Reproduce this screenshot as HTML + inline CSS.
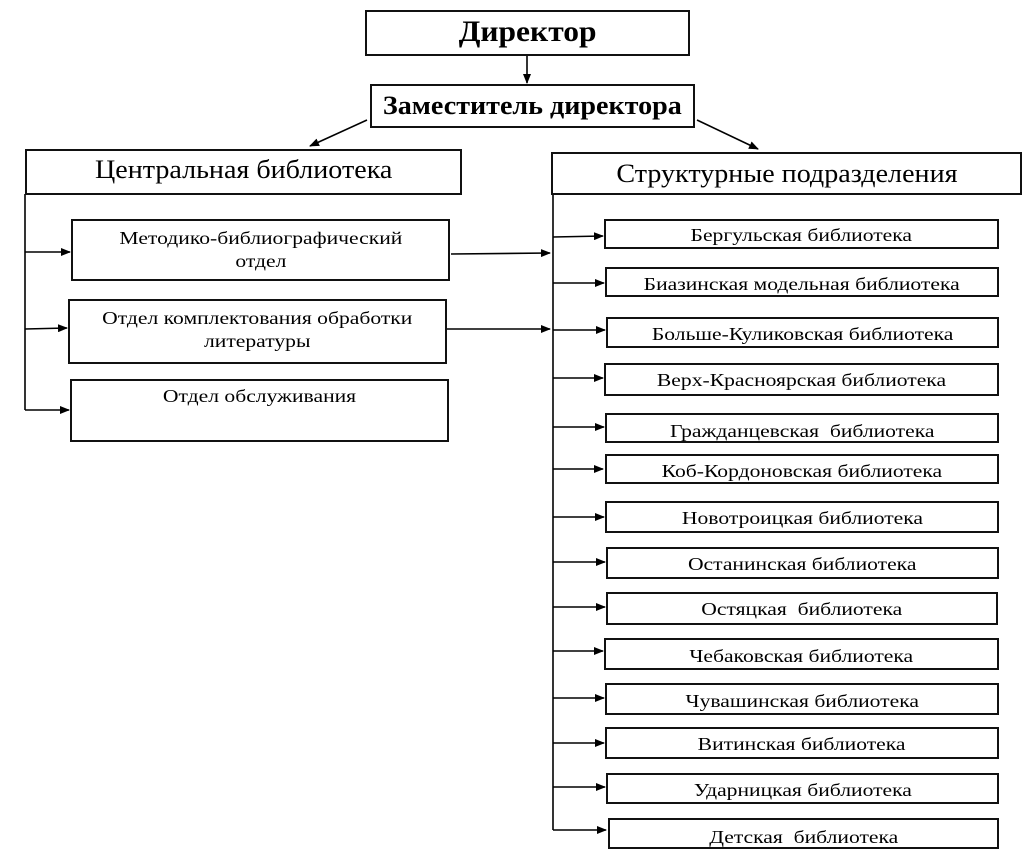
<!DOCTYPE html>
<html><head><meta charset="utf-8"><style>
body{margin:0;background:#fff;width:1024px;height:855px;position:relative;overflow:hidden;font-family:"Liberation Serif",serif;color:#000}
.b{position:absolute;border:2px solid #111;box-sizing:border-box;text-align:center;background:#fff;white-space:nowrap}
.b span{display:inline-block;transform:scaleX(1.2);transform-origin:center}
svg{position:absolute;left:0;top:0}
</style></head><body>
<svg width="1024" height="855">
<defs><marker id="a" markerWidth="10" markerHeight="8" refX="9" refY="4" orient="auto" markerUnits="userSpaceOnUse"><path d="M0,0L10,4L0,8z" fill="#000"/></marker></defs>
<g stroke="#000" stroke-width="1.6" fill="none">
<line x1="527" y1="56" x2="527" y2="83" marker-end="url(#a)"/>
<line x1="367" y1="120" x2="310" y2="146" marker-end="url(#a)"/>
<line x1="697" y1="120" x2="758" y2="149" marker-end="url(#a)"/>
<line x1="25" y1="194" x2="25" y2="410"/>
<line x1="25" y1="252" x2="70" y2="252" marker-end="url(#a)"/>
<line x1="25" y1="329" x2="67" y2="328" marker-end="url(#a)"/>
<line x1="25" y1="410" x2="69" y2="410" marker-end="url(#a)"/>
<line x1="451" y1="254" x2="550" y2="253" marker-end="url(#a)"/>
<line x1="447" y1="329" x2="550" y2="329" marker-end="url(#a)"/>
<line x1="553" y1="194" x2="553" y2="830"/>
<g>
<line x1="553" y1="237" x2="603" y2="236" marker-end="url(#a)"/>
<line x1="553" y1="283" x2="604" y2="283" marker-end="url(#a)"/>
<line x1="553" y1="330" x2="605" y2="330" marker-end="url(#a)"/>
<line x1="553" y1="378" x2="603" y2="378" marker-end="url(#a)"/>
<line x1="553" y1="427" x2="604" y2="427" marker-end="url(#a)"/>
<line x1="553" y1="469" x2="603" y2="469" marker-end="url(#a)"/>
<line x1="553" y1="517" x2="604" y2="517" marker-end="url(#a)"/>
<line x1="553" y1="562" x2="605" y2="562" marker-end="url(#a)"/>
<line x1="553" y1="607" x2="605" y2="607" marker-end="url(#a)"/>
<line x1="553" y1="651" x2="603" y2="651" marker-end="url(#a)"/>
<line x1="553" y1="698" x2="604" y2="698" marker-end="url(#a)"/>
<line x1="553" y1="743" x2="604" y2="743" marker-end="url(#a)"/>
<line x1="553" y1="787" x2="605" y2="787" marker-end="url(#a)"/>
<line x1="553" y1="830" x2="606" y2="830" marker-end="url(#a)"/>
</g></g></svg>

<div class="b" style="left:365px;top:10px;width:325px;height:46px;font-weight:bold;font-size:30px;line-height:40px"><span style="transform:scaleX(1.05)">Директор</span></div>
<div class="b" style="left:370px;top:84px;width:325px;height:44px;font-weight:bold;font-size:26px;line-height:40px"><span style="transform:scaleX(1.08)">Заместитель директора</span></div>
<div class="b" style="left:25px;top:149px;width:437px;height:46px;font-size:26px;line-height:38px"><span style="transform:scaleX(1.08)">Центральная библиотека</span></div>
<div class="b" style="left:551px;top:152px;width:471px;height:43px;font-size:26px;line-height:40px"><span style="transform:scaleX(1.08)">Структурные подразделения</span></div>
<div class="b" style="left:71px;top:219px;width:379px;height:62px;font-size:18px;line-height:23px;padding-top:6px"><span>Методико-библиографический<br>отдел</span></div>
<div class="b" style="left:68px;top:299px;width:379px;height:65px;font-size:18px;line-height:23px;padding-top:6px"><span>Отдел комплектования обработки<br>литературы</span></div>
<div class="b" style="left:70px;top:379px;width:379px;height:63px;font-size:18px;line-height:23px;padding-top:4px"><span>Отдел обслуживания</span></div>

<div style="position:absolute;left:0;top:0;font-size:18px">
<div class="b" style="left:604px;top:219px;width:395px;height:30px;line-height:28px"><span>Бергульская библиотека</span></div>
<div class="b" style="left:605px;top:267px;width:394px;height:30px;line-height:30px"><span>Биазинская модельная библиотека</span></div>
<div class="b" style="left:606px;top:317px;width:393px;height:31px;line-height:31px"><span>Больше-Куликовская библиотека</span></div>
<div class="b" style="left:604px;top:363px;width:395px;height:33px;line-height:31px"><span>Верх-Красноярская библиотека</span></div>
<div class="b" style="left:605px;top:413px;width:394px;height:30px;line-height:32px"><span>Гражданцевская&nbsp; библиотека</span></div>
<div class="b" style="left:605px;top:454px;width:394px;height:30px;line-height:30px"><span>Коб-Кордоновская библиотека</span></div>
<div class="b" style="left:605px;top:501px;width:394px;height:32px;line-height:31px"><span>Новотроицкая библиотека</span></div>
<div class="b" style="left:606px;top:547px;width:393px;height:32px;line-height:31px"><span>Останинская библиотека</span></div>
<div class="b" style="left:606px;top:592px;width:392px;height:33px;line-height:31px"><span>Остяцкая&nbsp; библиотека</span></div>
<div class="b" style="left:604px;top:638px;width:395px;height:32px;line-height:33px"><span>Чебаковская библиотека</span></div>
<div class="b" style="left:605px;top:683px;width:394px;height:32px;line-height:33px"><span>Чувашинская библиотека</span></div>
<div class="b" style="left:605px;top:727px;width:394px;height:32px;line-height:31px"><span>Витинская библиотека</span></div>
<div class="b" style="left:606px;top:773px;width:393px;height:31px;line-height:31px"><span>Ударницкая библиотека</span></div>
<div class="b" style="left:608px;top:818px;width:391px;height:31px;line-height:34px"><span>Детская&nbsp; библиотека</span></div>
</div>
</body></html>
